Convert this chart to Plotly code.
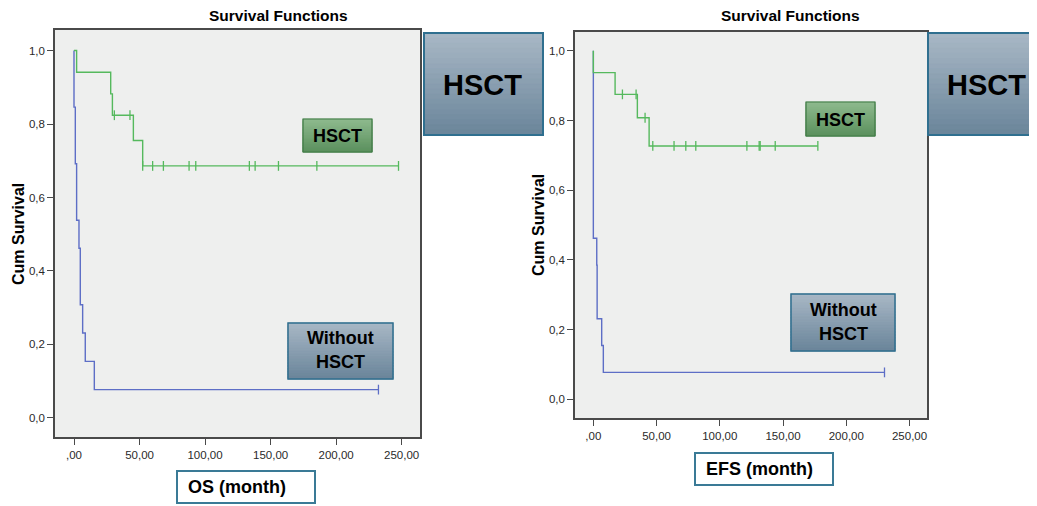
import plotly.graph_objects as go

# ---------------- data ----------------
# OS panel
os_hsct_times = [0, 2, 28, 29.3, 45.3, 52.4, 247.6]
os_hsct_surv = [1.0, 0.941, 0.882, 0.824, 0.755, 0.686, 0.686]
os_hsct_censored = [30.8, 42.7, 52.4, 60, 68.2, 87.8, 92.9, 133.8, 138.2, 156, 185.3, 247.6]

os_no_times = [0, 0, 1, 2, 3.8, 4.8, 6.6, 8.6, 15.5, 232.3]
os_no_surv = [1.0, 0.846, 0.692, 0.538, 0.462, 0.308, 0.231, 0.154, 0.077, 0.077]
os_no_censored = [232.3]

# EFS panel
efs_hsct_times = [0, 0, 17.2, 34.8, 44.1, 177.5]
efs_hsct_surv = [1.0, 0.9375, 0.875, 0.808, 0.727, 0.727]
efs_hsct_censored = [23, 33.8, 40.9, 47, 63.8, 73.1, 81, 121.4, 131.1, 131.9, 143.8, 177.5]

efs_no_times = [0, 0, 2.7, 3.0, 6.6, 7.9, 230.2]
efs_no_surv = [1.0, 0.462, 0.385, 0.231, 0.154, 0.077, 0.077]
efs_no_censored = [230.2]

x_tickvals = [0, 50, 100, 150, 200, 250]
x_ticktext = [",00", "50,00", "100,00", "150,00", "200,00", "250,00"]
y_tickvals = [0, 0.2, 0.4, 0.6, 0.8, 1.0]
y_ticktext = ["0,0", "0,2", "0,4", "0,6", "0,8", "1,0"]

GREEN = "#55b95d"
BLUE = "#5d6ec6"

# the page body has an 8px margin, so the figure starts at (8, 8) in the window
OFF = 8
W, H = 1037 - OFF, 506 - OFF


def PX(x):
    return (x - OFF) / W


def PY(y):
    return 1 - (y - OFF) / H


def surv_at(times, surv, t):
    v = surv[0]
    for ti, si in zip(times, surv):
        if ti <= t:
            v = si
    return v


fig = go.Figure()


def add_curve(times, surv, cens, color, xa, ya):
    fig.add_trace(go.Scatter(x=times, y=surv, mode="lines", line=dict(color=color, width=1.4, shape="hv"),
                             xaxis=xa, yaxis=ya, showlegend=False, hoverinfo="skip"))
    fig.add_trace(go.Scatter(x=cens, y=[surv_at(times, surv, c) for c in cens], mode="markers",
                             marker=dict(symbol="line-ns", size=7, line=dict(color=color, width=1.3)),
                             xaxis=xa, yaxis=ya, showlegend=False, hoverinfo="skip"))


add_curve(os_no_times, os_no_surv, os_no_censored, BLUE, "x", "y")
add_curve(os_hsct_times, os_hsct_surv, os_hsct_censored, GREEN, "x", "y")
add_curve(efs_no_times, efs_no_surv, efs_no_censored, BLUE, "x2", "y2")
add_curve(efs_hsct_times, efs_hsct_surv, efs_hsct_censored, GREEN, "x2", "y2")

tickfont = dict(family="Liberation Sans, Arial, sans-serif", size=11.5, color="#2a2a2a")
axis_common = dict(showline=True, mirror=True, linecolor="#4a4a4a", linewidth=1.5, ticks="outside",
                   ticklen=6, tickcolor="#4a4a4a", showgrid=False, zeroline=False, tickfont=tickfont,
                   fixedrange=True)

fig.update_layout(
    width=W, height=H,
    margin=dict(l=0, r=0, t=0, b=0),
    paper_bgcolor="white",
    plot_bgcolor="#eeefee",
    xaxis=dict(domain=[PX(55), PX(420)], range=[-14.5, 264], tickvals=x_tickvals, ticktext=x_ticktext,
               anchor="y", **axis_common),
    yaxis=dict(domain=[PY(437), PY(30)], range=[-0.052, 1.056], tickvals=y_tickvals,
               ticktext=y_ticktext, anchor="x", **axis_common),
    xaxis2=dict(domain=[PX(575), PX(927)], range=[-14.5, 263.8], tickvals=x_tickvals, ticktext=x_ticktext,
                anchor="y2", **axis_common),
    yaxis2=dict(domain=[PY(418), PY(31.7)], range=[-0.054, 1.055], tickvals=y_tickvals,
                ticktext=y_ticktext, anchor="x2", **axis_common),
)


def hex2rgb(h):
    h = h.lstrip("#")
    return [int(h[i:i + 2], 16) for i in (0, 2, 4)]


def grad_box(x0, y0, x1, y1, top, bottom, border, bw=2, n=20):
    t = hex2rgb(top)
    b = hex2rgb(bottom)
    for i in range(n):
        f = (i + 0.5) / n
        c = [round(t[k] + (b[k] - t[k]) * f) for k in range(3)]
        ya = y0 + (y1 - y0) * i / n
        yb = min(y0 + (y1 - y0) * (i + 1) / n + 2.0, y1)
        col = "rgb(%d,%d,%d)" % tuple(c)
        fig.add_shape(type="rect", xref="paper", yref="paper",
                      x0=PX(x0), x1=PX(x1), y0=PY(ya), y1=PY(yb),
                      fillcolor=col, line=dict(width=0.8, color=col), layer="above")
    fig.add_shape(type="rect", xref="paper", yref="paper", x0=PX(x0), x1=PX(x1),
                  y0=PY(y0), y1=PY(y1), line=dict(color=border, width=bw),
                  fillcolor="rgba(0,0,0,0)", layer="above")


def text(x, y, s, size, family="Liberation Sans, Arial, sans-serif", bold=True, color="black", angle=0,
         xanchor="center"):
    fig.add_annotation(x=PX(x), y=PY(y), xref="paper", yref="paper", text=("<b>%s</b>" % s) if bold else s,
                       showarrow=False, textangle=angle, xanchor=xanchor, yanchor="middle",
                       font=dict(family=family, size=size, color=color))


BOX_TOP, BOX_BOT, BOX_BORDER = "#a9b8c6", "#6a859a", "#2f6f8f"
G_TOP, G_BOT, G_BORDER = "#8fbb8f", "#5c915e", "#3f7a45"

# big HSCT boxes
grad_box(424, 33, 543, 135, BOX_TOP, BOX_BOT, BOX_BORDER)
text(482, 85, "HSCT", 29)
grad_box(928, 33, 1045, 135, BOX_TOP, BOX_BOT, BOX_BORDER)
text(986, 85, "HSCT", 29)

# green HSCT labels
grad_box(303, 119, 372, 152, G_TOP, G_BOT, G_BORDER, bw=1.2)
text(337.5, 136, "HSCT", 18)
grad_box(806, 102, 875, 136, G_TOP, G_BOT, G_BORDER, bw=1.2)
text(840.5, 119.5, "HSCT", 18)

# Without HSCT labels
grad_box(288, 323, 393, 379, BOX_TOP, BOX_BOT, BOX_BORDER, bw=1.5)
text(340.5, 338, "Without", 18)
text(340.5, 362, "HSCT", 18)
grad_box(791, 294, 895, 351, BOX_TOP, BOX_BOT, BOX_BORDER, bw=1.5)
text(843, 310, "Without", 18)
text(843, 334, "HSCT", 18)

# x-axis title boxes
for (x0, y0, x1, y1, s) in [(177, 471, 315, 503, "OS (month)"), (695, 453, 833, 485, "EFS (month)")]:
    fig.add_shape(type="rect", xref="paper", yref="paper", x0=PX(x0), x1=PX(x1), y0=PY(y0),
                  y1=PY(y1), fillcolor="white", line=dict(color="#3a7a96", width=2), layer="above")
    text(x0 + 9, (y0 + y1) / 2, s, 18, xanchor="left")

# titles
text(278, 16, "Survival Functions", 15.5)
text(790, 16, "Survival Functions", 15.5)

# y-axis titles
text(18, 234, "Cum Survival", 16, angle=-90)
text(538, 225, "Cum Survival", 16, angle=-90)

fig.write_html("out.html")
